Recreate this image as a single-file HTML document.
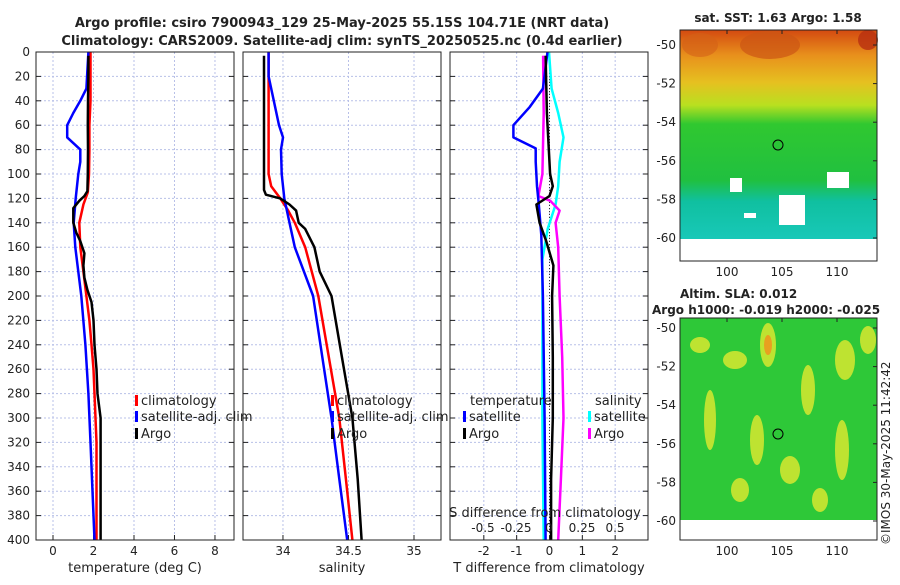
<!DOCTYPE html>
<html><head><meta charset="utf-8"><style>
body{margin:0;background:#fff;}
svg text{font-family:"DejaVu Sans","Liberation Sans",sans-serif;fill:#222;}
</style></head><body>
<svg id="fig" width="900" height="580" xmlns="http://www.w3.org/2000/svg">
<defs>
<linearGradient id="sstg" x1="0" y1="0" x2="0" y2="1">
<stop offset="0" stop-color="#d44a10"/><stop offset="0.12" stop-color="#e8901c"/><stop offset="0.25" stop-color="#e6c020"/><stop offset="0.36" stop-color="#b8e020"/><stop offset="0.45" stop-color="#30c830"/><stop offset="0.72" stop-color="#20c040"/><stop offset="0.82" stop-color="#10c0a0"/><stop offset="1" stop-color="#18c8b8"/>
</linearGradient>
</defs>
<text x="342" y="27" text-anchor="middle" font-weight="bold" font-size="13">Argo profile: csiro 7900943_129 25-May-2025 55.15S 104.71E (NRT data)</text>
<text x="342" y="45" text-anchor="middle" font-weight="bold" font-size="13">Climatology: CARS2009. Satellite-adj clim: synTS_20250525.nc (0.4d earlier)</text>
<g id="panels"></g>
<g id="maps">
<text x="778" y="22" text-anchor="middle" font-weight="bold" font-size="12">sat. SST: 1.63 Argo: 1.58</text>
<rect x="680" y="30" width="197" height="209" fill="url(#sstg)"/>
<ellipse cx="770" cy="45" rx="30" ry="14" fill="#cc5514" opacity="0.7"/>
<ellipse cx="868" cy="40" rx="10" ry="10" fill="#b83010" opacity="0.8"/>
<ellipse cx="700" cy="45" rx="18" ry="12" fill="#d46018" opacity="0.6"/>
<rect x="730" y="178" width="12" height="14" fill="#fff"/>
<rect x="779" y="195" width="26" height="30" fill="#fff"/>
<rect x="827" y="172" width="22" height="16" fill="#fff"/>
<rect x="744" y="213" width="12" height="5" fill="#fff"/>
<circle cx="778" cy="145" r="5" fill="none" stroke="#000"/>
<rect x="680" y="30" width="197" height="231" fill="none" stroke="#222"/>
<text x="680" y="298" font-weight="bold" font-size="12">Altim. SLA: 0.012</text>
<text x="652" y="314" font-weight="bold" font-size="12">Argo h1000: -0.019 h2000: -0.025</text>
<rect x="680" y="318" width="197" height="202" fill="#2ec838"/>
<g fill="#d8e830" opacity="0.85">
<ellipse cx="768" cy="345" rx="8" ry="22"/><ellipse cx="735" cy="360" rx="12" ry="9"/><ellipse cx="700" cy="345" rx="10" ry="8"/>
<ellipse cx="845" cy="360" rx="10" ry="20"/><ellipse cx="808" cy="390" rx="7" ry="25"/><ellipse cx="710" cy="420" rx="6" ry="30"/>
<ellipse cx="757" cy="440" rx="7" ry="25"/><ellipse cx="790" cy="470" rx="10" ry="14"/><ellipse cx="842" cy="450" rx="7" ry="30"/>
<ellipse cx="740" cy="490" rx="9" ry="12"/><ellipse cx="820" cy="500" rx="8" ry="12"/><ellipse cx="868" cy="340" rx="8" ry="14"/>
</g>
<ellipse cx="768" cy="345" rx="4" ry="10" fill="#e8a020"/>
<circle cx="778" cy="434" r="5" fill="none" stroke="#000"/>
<rect x="680" y="318" width="197" height="222" fill="none" stroke="#222"/>
<text transform="translate(890,545) rotate(-90)" font-size="12">©IMOS 30-May-2025 11:42:42</text>
</g>
</svg>
<script>
// ---- data ----
const tClimDepth=[0,20,40,60,80,100,115,125,140,160,180,200,220,240,260,280,300,320,340,360,380,400];
const tClimVal=[1.85,1.85,1.85,1.8,1.8,1.78,1.72,1.5,1.3,1.35,1.5,1.65,1.8,1.9,2.0,2.05,2.1,2.15,2.15,2.15,2.15,2.15];
const tSatDepth=[0,30,40,50,60,70,80,90,100,120,140,160,180,200,240,280,320,360,400];
const tSatVal=[1.75,1.65,1.35,1.0,0.7,0.7,1.35,1.35,1.25,1.12,1.02,1.1,1.25,1.4,1.6,1.75,1.85,1.95,2.05];
const tArgoDepth=[3,20,40,60,80,100,114,118,122,128,140,148,155,165,175,185,195,205,220,240,260,280,300,340,400];
const tArgoVal=[1.75,1.75,1.73,1.72,1.73,1.72,1.7,1.55,1.3,1.0,1.0,1.15,1.35,1.55,1.5,1.55,1.7,1.9,2.0,2.05,2.15,2.2,2.35,2.35,2.35];
const sClimDepth=[0,50,100,110,120,130,140,160,200,250,300,350,400];
const sClimVal=[33.89,33.89,33.89,33.91,33.98,34.04,34.09,34.17,34.27,34.35,34.43,34.48,34.53];
const sSatDepth=[0,20,40,60,70,80,100,120,140,160,200,250,300,350,400];
const sSatVal=[33.89,33.89,33.93,33.97,34.0,33.985,33.99,34.01,34.05,34.09,34.23,34.3,34.37,34.43,34.49];
const sArgoDepth=[3,50,113,117,120,125,130,140,145,160,180,200,250,300,350,400];
const sArgoVal=[33.855,33.855,33.855,33.87,33.98,34.05,34.1,34.12,34.17,34.24,34.28,34.37,34.45,34.53,34.57,34.6];
const dtSatDepth=[0,30,45,60,70,79,90,110,124,150,200,300,400];
const dtSatVal=[-0.06,-0.2,-0.6,-1.1,-1.1,-0.42,-0.42,-0.38,-0.33,-0.25,-0.2,-0.15,-0.12];
const dtArgoDepth=[3,50,100,110,118,125,140,155,175,200,250,300,350,400];
const dtArgoVal=[-0.12,-0.08,0.02,0.1,0.0,-0.4,-0.3,-0.1,0.12,0.08,0.1,0.1,0.05,0.05];
const dsSatDepth=[0,30,50,70,90,110,125,145,170,250,300,400];
const dsSatVal=[0.0,0.02,0.07,0.11,0.08,0.07,0.05,-0.01,-0.05,-0.05,-0.05,-0.04];
const dsArgoDepth=[3,50,100,118,122,130,140,160,200,250,300,350,400];
const dsArgoVal=[-0.045,-0.04,-0.05,-0.08,0.01,0.08,0.05,0.07,0.08,0.1,0.11,0.09,0.07];
const depthTicks=[0,20,40,60,80,100,120,140,160,180,200,220,240,260,280,300,320,340,360,380,400];
const tTicks=[0,2,4,6,8];
const sTicks=[34,34.5,35];
const dtTicks=[-2,-1,0,1,2];
const dsTicks=[-0.5,-0.25,0,0.25,0.5];
const latTicks=[-50,-52,-54,-56,-58,-60];
const lonTicks=[100,105,110];
// ---- scales ----
const NS="http://www.w3.org/2000/svg";
const Y0=52,Y1=540;
const yD=d=>Y0+(d/400)*(Y1-Y0);
const P=[{x0:36,x1:234,lo:-0.84,hi:8.94},{x0:243,x1:441,lo:33.695,hi:35.206},{x0:450,x1:648,lo:-3.03,hi:3.0}];
const sx=(p,v)=>p.x0+(v-p.lo)/(p.hi-p.lo)*(p.x1-p.x0);
const dsx=v=>549+v*132;
const g=document.getElementById('panels');
function mk(tag,at,parent){const e=document.createElementNS(NS,tag);for(const k in at)e.setAttribute(k,at[k]);(parent||g).appendChild(e);return e;}
function txt(s,at){const e=mk('text',at);e.textContent=s;return e;}
P.forEach((p,i)=>{
  const gl=mk('g',{});
  
  
  depthTicks.forEach(d=>{if(d>0&&d<400){const l=mk('line',{x1:p.x0,x2:p.x1,y1:yD(d),y2:yD(d),stroke:'#b8c0e8','stroke-dasharray':'2,2','stroke-width':1},gl);}
    const t1=mk('line',{x1:p.x0,x2:p.x0+5,y1:yD(d),y2:yD(d),stroke:'#222'},gl);
    const t2=mk('line',{x1:p.x1-5,x2:p.x1,y1:yD(d),y2:yD(d),stroke:'#222'},gl);});
  const xt=i==0?tTicks:i==1?sTicks:dtTicks;
  xt.forEach(v=>{const x=sx(p,v);
    const l=mk('line',{x1:x,x2:x,y1:Y0,y2:Y1,stroke:'#b8c0e8','stroke-dasharray':'2,2'},gl);
    const t=mk('line',{x1:x,x2:x,y1:Y1-5,y2:Y1,stroke:'#222'},gl);
    const lb=txt(String(v),{x:x,y:555,'text-anchor':'middle','font-size':12});});
});
depthTicks.forEach(d=>{const lb=txt(String(d),{x:30,y:yD(d)+4,'text-anchor':'end','font-size':12});});
const zl=mk('line',{x1:sx(P[2],0),x2:sx(P[2],0),y1:Y0,y2:Y1,stroke:'#333','stroke-dasharray':'1,2'});


function series(xs,ds,fx,col,name,w){
  const pts=ds.map((d,k)=>fx(xs[k]).toFixed(1)+','+yD(d).toFixed(1)).join(' ');
  const e=mk('polyline',{points:pts,fill:'none',stroke:col,'stroke-width':w||2.5,'stroke-linejoin':'round'});
  
  
}
series(tClimVal,tClimDepth,v=>sx(P[0],v),'#ff0000','temp-climatology-line');
series(tSatVal,tSatDepth,v=>sx(P[0],v),'#0000ff','temp-satellite-line');
series(tArgoVal,tArgoDepth,v=>sx(P[0],v),'#000','temp-argo-line');
series(sClimVal,sClimDepth,v=>sx(P[1],v),'#ff0000','sal-climatology-line');
series(sSatVal,sSatDepth,v=>sx(P[1],v),'#0000ff','sal-satellite-line');
series(sArgoVal,sArgoDepth,v=>sx(P[1],v),'#000','sal-argo-line');
series(dsSatVal,dsSatDepth,dsx,'#00ffff','dsal-satellite-line');
series(dsArgoVal,dsArgoDepth,dsx,'#ff00ff','dsal-argo-line');
series(dtSatVal,dtSatDepth,v=>sx(P[2],v),'#0000ff','dtemp-satellite-line');
series(dtArgoVal,dtArgoDepth,v=>sx(P[2],v),'#000','dtemp-argo-line');
P.forEach((p,i)=>{const r=mk('rect',{x:p.x0,y:Y0,width:p.x1-p.x0,height:Y1-Y0,fill:'none',stroke:'#222'});});
// S diff axis labels inside panel 3
const st=txt('S difference from climatology',{x:545,y:517,'text-anchor':'middle','font-size':13});


dsTicks.forEach(v=>{const lb=txt(String(v),{x:dsx(v),y:532,'text-anchor':'middle','font-size':12});});
[['temperature (deg C)',135],['salinity',342],['T difference from climatology',549]].forEach(a=>{const lb=txt(a[0],{x:a[1],y:572,'text-anchor':'middle','font-size':13});});
function legend(x,y,col,label){
  const m=mk('rect',{x:x,y:y-10,width:3,height:11,fill:col});
  
  
  const t=txt(label,{x:x+6,y:y,'font-size':13});
  
  
}
legend(135,405,'#ff0000','climatology');legend(135,421,'#0000ff','satellite-adj. clim');legend(135,438,'#000','Argo');
legend(331,405,'#ff0000','climatology');legend(331,421,'#0000ff','satellite-adj. clim');legend(331,438,'#000','Argo');
const lt=txt('temperature',{x:470,y:405,'font-size':13});
const ls=txt('salinity',{x:595,y:405,'font-size':13});
legend(463,421,'#0000ff','satellite');legend(463,438,'#000','Argo');
legend(588,421,'#00ffff','satellite');legend(588,438,'#ff00ff','Argo');
// map axes
const mg=document.getElementById('maps');
function mapAxes(top,lat50,bottom){
  latTicks.forEach(v=>{const y=lat50+(-50-v)*19.3;
    const t=mk('line',{x1:873,x2:877,y1:y,y2:y,stroke:'#222'},mg);
    const lb=txt(String(v),{x:676,y:y+4,'text-anchor':'end','font-size':12});mg.appendChild(lb);});
  lonTicks.forEach(v=>{const x=727+(v-100)*11;
    const t=mk('line',{x1:x,x2:x,y1:top,y2:top+4,stroke:'#222'},mg);
    const lb=txt(String(v),{x:x,y:bottom+15,'text-anchor':'middle','font-size':12});mg.appendChild(lb);});
}
mapAxes(30,45,261);
mapAxes(318,328,540);
</script>
</body></html>
